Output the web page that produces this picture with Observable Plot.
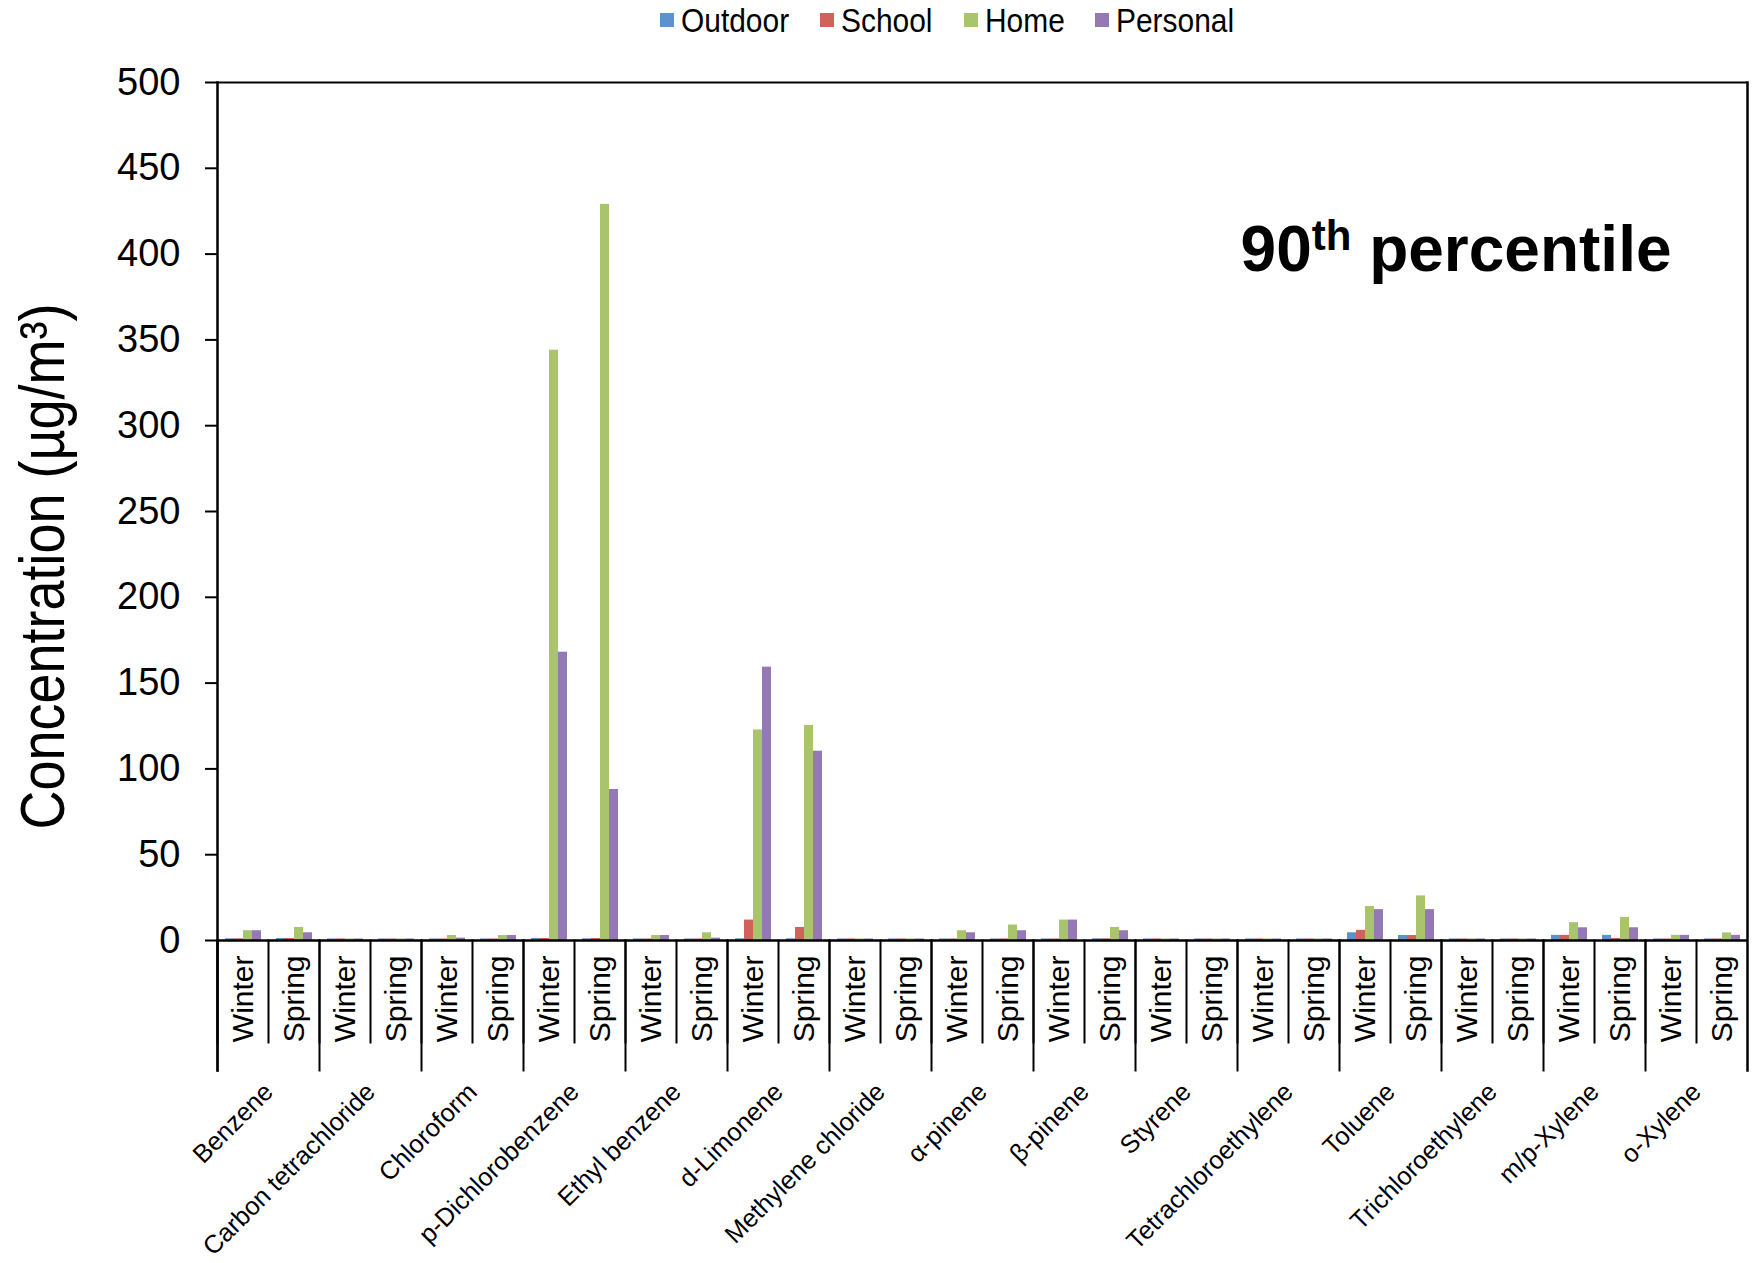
<!DOCTYPE html>
<html>
<head>
<meta charset="utf-8">
<script src="https://cdn.jsdelivr.net/npm/d3@7"></script>
<script src="https://cdn.jsdelivr.net/npm/@observablehq/plot@0.6"></script>
<style>
  html, body { margin: 0; padding: 0; background: #fff; }
  body { width: 1756px; height: 1263px; overflow: hidden; font-family: "Liberation Sans", Arial, sans-serif; }
  #legend { height: 40px; display: flex; align-items: center; padding-left: 660px; box-sizing: border-box; }
  .item { display: flex; align-items: center; margin-right: 31px; }
  .sw { width: 14px; height: 14px; margin-right: 7px; }
  .lab { display: inline-block; font-size: 34px; line-height: 40px; color: #000; transform: scaleX(0.88); transform-origin: 0 50%; }
  #chart svg { display: block; }
</style>
</head>
<body>
<div id="legend"></div>
<div id="chart"></div>
<script>
const compounds = ["Benzene", "Carbon tetrachloride", "Chloroform", "p-Dichlorobenzene", "Ethyl benzene",
  "d-Limonene", "Methylene chloride", "α-pinene", "β-pinene", "Styrene", "Tetrachloroethylene",
  "Toluene", "Trichloroethylene", "m/p-Xylene", "o-Xylene"];
const seasons = ["Winter", "Spring"];
const sources = ["Outdoor", "School", "Home", "Personal"];
const sourceColors = ["#5B93CF", "#D0625B", "#A9C46B", "#9479B4"];

// values per compound: Winter, Spring (µg/m³, 90th percentile)
const outdoor  = [1.0, 1.2,  0.9, 0.9,  0.9, 0.9,  1.2, 1.0,  0.9, 0.9,  1.0, 1.0,  0.9, 0.9,  0.9, 0.9,  0.9, 1.0,  0.9, 0.9,  0.9, 0.9,  4.5, 2.9,  0.9, 0.9,  3.0, 3.0,  0.9, 0.9];
const school   = [1.0, 1.2,  0.9, 0.9,  0.9, 0.9,  1.2, 1.2,  0.9, 0.9,  11.9, 7.6, 0.9, 0.9,  0.9, 0.9,  0.9, 1.0,  0.9, 0.9,  0.9, 0.9,  5.9, 2.9,  0.9, 0.9,  3.0, 1.2,  0.9, 0.9];
const home     = [5.7, 7.6,  0.9, 0.9,  2.9, 2.9,  344, 429,  2.9, 4.5,  122.7, 125.3, 0.9, 0.9, 5.7, 9.0, 11.9, 7.6, 0.9, 0.9, 0.9, 0.9, 19.8, 26.0, 0.9, 0.9, 10.4, 13.4, 3.0, 4.4];
const personal = [5.7, 4.5,  0.9, 0.9,  1.4, 2.9,  168, 88,   2.9, 1.4,  159.3, 110.3, 0.9, 0.9, 4.5, 5.7, 11.9, 5.7, 0.9, 0.9, 0.9, 0.9, 18.0, 18.0, 0.9, 0.9, 7.4, 7.4, 3.0, 3.0];
const yTicks = [0, 50, 100, 150, 200, 250, 300, 350, 400, 450, 500];
const yLabel = "Concentration (µg/m³)";
const annotation = "90th percentile";

// Legend (narrow-looking labels)
const legend = d3.select("#legend");
sources.forEach((s, i) => {
  const it = legend.append("div").attr("class", "item");
  it.append("div").attr("class", "sw").style("background", sourceColors[i]);
  it.append("div").attr("class", "lab").text(s);
});
legend.selectAll(".lab").each(function() {
  this.style.marginRight = (-0.12 * this.offsetWidth) + "px";
});

const keys = compounds.flatMap(c => seasons.map(s => c + "|" + s));
const series = [outdoor, school, home, personal];
const rows = [];
keys.forEach((k, i) => {
  series.forEach((arr, j) => rows.push({key: k, source: sources[j], value: arr[i]}));
});

const W = 1756, H = 1223;
const mTop = 42, mBottom = 323, mLeft = 215, mRight = 7;
const plotH = H - mTop - mBottom;
const font = "'Liberation Sans', Arial, sans-serif";

const chart = Plot.plot({
  width: W, height: H,
  marginTop: mTop, marginBottom: mBottom, marginLeft: mLeft, marginRight: mRight,
  style: {fontFamily: font, background: "#fff", overflow: "visible", color: "#000"},
  fx: {domain: keys, padding: 0, label: null},
  x: {domain: sources, paddingInner: 0, paddingOuter: 0.7, axis: null},
  y: {domain: [0, 500], label: null},
  color: {domain: sources, range: sourceColors},
  marks: [
    Plot.barY(rows, {fx: "key", x: "source", y: "value", fill: "source", inset: 0}),
    Plot.ruleY([500], {stroke: "#000", strokeWidth: 2}),
    Plot.ruleY([0], {stroke: "#000", strokeWidth: 2.5}),
    Plot.frame({anchor: "left", facetAnchor: "left", insetBottom: -130, stroke: "#000", strokeWidth: 2.5}),
    Plot.frame({anchor: "right", facetAnchor: "right", insetBottom: -130, stroke: "#000", strokeWidth: 2.5}),
    Plot.frame({anchor: "left", insetTop: plotH, insetBottom: -102, stroke: "#000", strokeWidth: 2}),
    ...compounds.map(c => Plot.frame({fx: c + "|Winter", anchor: "left", insetTop: plotH, insetBottom: -130, stroke: "#000", strokeWidth: 2})),
    Plot.axisY({ticks: yTicks, tickSize: 12, tickPadding: 25, fontSize: 38, tickFormat: d => String(d), label: null, strokeWidth: 2}),
    Plot.axisFx({anchor: "bottom", tickSize: 0, tickRotate: -90, tickPadding: 15, fontSize: 30,
      tickFormat: k => k.split("|")[1], label: null}),
    Plot.text(compounds, {fx: c => c + "|Winter", text: d => d, frameAnchor: "bottom-right", rotate: -45,
      textAnchor: "end", lineAnchor: "bottom", dx: 6, dy: 153, fontSize: 25.5}),
    Plot.text([yLabel], {text: d => d, frameAnchor: "left", facetAnchor: "left", rotate: -90,
      textAnchor: "middle", lineAnchor: "middle", dx: -174, dy: 55, fontSize: 63}),
    Plot.text([annotation], {text: d => d, frameAnchor: "top-right", facetAnchor: "right", textAnchor: "end",
      lineAnchor: "bottom", dx: -76, dy: 188, fontSize: 64, fontWeight: "bold"})
  ]
});

document.getElementById("chart").appendChild(chart);

// condensed y-axis title (the reference uses a narrow face)
d3.select(chart).selectAll("text").filter(function() { return this.textContent === yLabel; })
  .attr("textLength", 526).attr("lengthAdjust", "spacingAndGlyphs");

// superscript "th" in the annotation
d3.select(chart).selectAll("text").filter(function() { return this.textContent === annotation; })
  .each(function() {
    const t = d3.select(this);
    t.text(null);
    t.append("tspan").text("90");
    t.append("tspan").attr("font-size", 42).attr("dy", -21).text("th");
    t.append("tspan").attr("dy", 21).text(" percentile");
  });
</script>
</body>
</html>
